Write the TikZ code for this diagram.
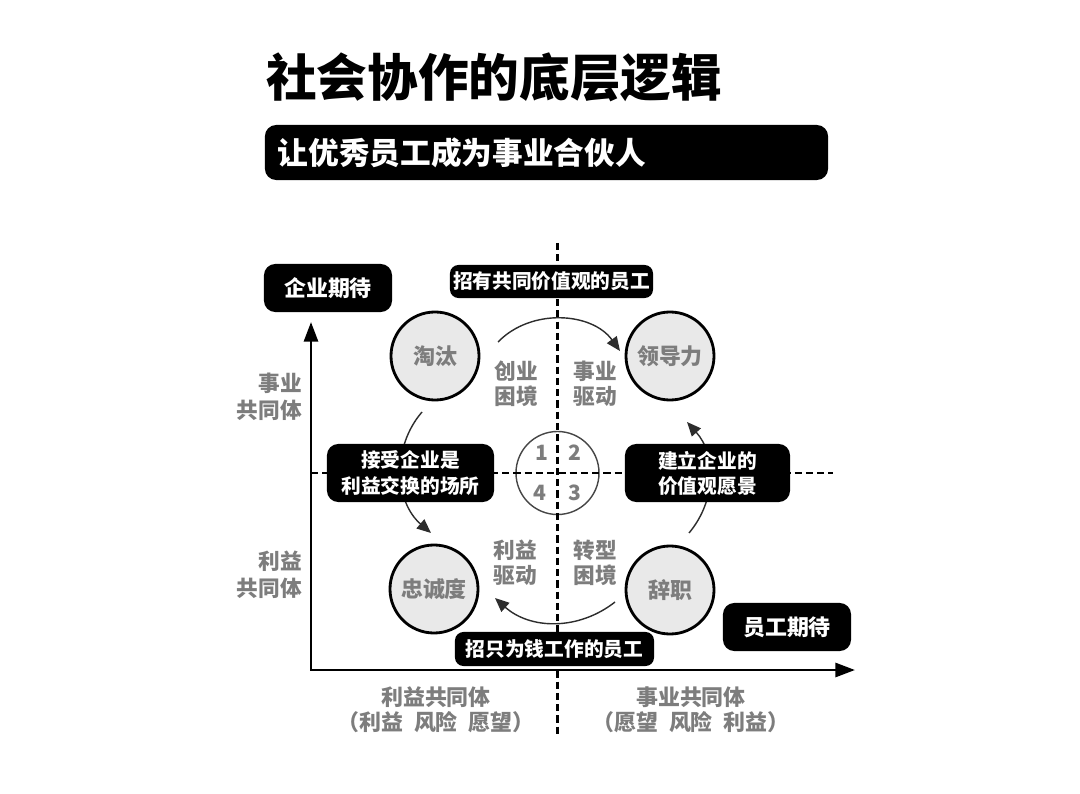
\documentclass[tikz,border=0pt]{standalone}
\usepackage{fontspec}
\usepackage{xcolor}
\usepackage{tikz}
\usetikzlibrary{positioning,arrows.meta,calc}
\newfontfamily\hei{Noto Sans CJK SC}
\newcommand{\fsz}[2]{\fontsize{#1}{#2}\selectfont}
\newcommand{\gap}{\hspace{0.5em}}
\definecolor{inkgray}{RGB}{125,125,125}
\definecolor{discgray}{RGB}{233,233,233}
\definecolor{ringgray}{RGB}{70,70,70}
\definecolor{arcgray}{RGB}{45,45,45}
\tikzset{
  tag/.style={fill=black, text=white, rounded corners=6pt, inner sep=0pt, align=center,
              font=\hei\bfseries\fsz{14}{17.8}},
  bigtag/.style={tag, rounded corners=8pt, font=\hei\bfseries\fsz{15.6}{19}},
  disc/.style={circle, draw=black, line width=2pt, fill=discgray, minimum size=2.2cm,
               inner sep=0pt, text=inkgray, font=\hei\bfseries\fsz{15.6}{18}},
  soft/.style={text=inkgray, inner sep=0pt, align=center, font=\hei\bfseries\fsz{15.4}{17.8}},
  num/.style={text=inkgray, inner sep=0pt, font=\hei\bfseries\fsz{15}{15}},
  axis/.style={line width=2pt, {Triangle[length=14pt,width=10pt]}-{Triangle[length=14pt,width=10pt]}},
  guide/.style={line width=1.8pt, dash pattern=on 5pt off 3pt},
  cyc/.style={line width=1pt, arcgray, -{Triangle[length=10pt,width=8.5pt]}}
}

\begin{document}
\begin{tikzpicture}[x=0.025cm, y=0.025cm]
\path[fill=white, use as bounding box] (0,0) rectangle (1080,-794);
\node[anchor=west, inner sep=0pt, font=\hei\bfseries\fsz{36}{40}] (title) at (266,-77) {社会协作的底层逻辑};
\node[tag, rounded corners=8pt, minimum height=1.375cm, text width=13.425cm, inner xsep=0.325cm,
      align=left, font=\hei\bfseries\fsz{21.8}{26}] (sub) at (546.5,-152.5) {让优秀员工成为事业合伙人};

\coordinate (origin) at (311,-670);
\coordinate (ytip) at (311,-322);
\coordinate (xtip) at (855,-670);
\coordinate (vtop) at (557.5,-243);
\coordinate (vbot) at (557.5,-735);
\coordinate (hend) at (833,-473);
\node[circle, draw=ringgray, line width=1pt, minimum size=2.075cm, inner sep=0pt] (hub) at (557.5,-473) {};
\draw[guide] (vtop) -- (vbot);
\draw[guide] (origin |- hub) -- (hend);
\draw[axis] (ytip) -- (origin) -- (xtip);

\node[num] (q1) at ($(hub)+(-16,20)$) {1};
\node[num] (q2) at ($(hub)+(17.5,20)$) {2};
\node[num] (q3) at ($(hub)+(17.5,-20)$) {3};
\node[num] (q4) at ($(hub)+(-17.5,-20)$) {4};

\coordinate (t1) at (498,-342);
\coordinate (t2) at (620,-351);
\coordinate (r1) at (689,-533);
\coordinate (r2) at (687,-422);
\coordinate (l1) at (422,-412);
\coordinate (l2) at (431,-533);
\coordinate (b1) at (615,-602);
\coordinate (b2) at (495,-598);
\draw[cyc] (t1) to[bend left=50] (t2);
\draw[cyc] (r1) to[bend right=41] (r2);
\draw[cyc] (l1) to[bend right=45] (l2);
\draw[cyc] (b1) to[bend left=40] (b2);

\node[bigtag, minimum width=3.2cm, minimum height=1.2cm] (corp) at (328,-288) {企业期待};
\node[bigtag, minimum width=3.2cm, minimum height=1.2cm] (staff) at (787,-627) {员工期待};
\node[tag, minimum width=5.075cm, minimum height=0.825cm] (hiretop) at (551.5,-281.5) {招有共同价值观的员工};
\node[tag, minimum width=4.975cm, minimum height=0.85cm] (hirebot) at (554.5,-649) {招只为钱工作的员工};
\node[tag, rounded corners=8pt, minimum width=4.175cm, minimum height=1.45cm] (accept) at (410.5,-473) {接受企业是\\利益交换的场所};
\node[tag, rounded corners=8pt, minimum width=4.125cm, minimum height=1.45cm] (vision) at (707.5,-473) {建立企业的\\价值观愿景};

\node[disc] (taotai) at (435,-356) {淘汰};
\node[disc] (lead) at (670,-356) {领导力};
\node[disc] (loyal) at (434,-589) {忠诚度};
\node[disc] (quit) at (670,-590) {辞职};

\node[soft] (q1lbl) at (516.5,-383.5) {创业\\困境};
\node[soft] (q2lbl) at (595,-383.5) {事业\\驱动};
\node[soft] (q4lbl) at (515,-563) {利益\\驱动};
\node[soft] (q3lbl) at (595,-563) {转型\\困境};

\node[soft, align=right, anchor=east, font=\hei\bfseries\fsz{15.4}{19}] (ytop) at (302,-397) {事业\\共同体};
\node[soft, align=right, anchor=east, font=\hei\bfseries\fsz{15.4}{19}] (ybot) at (302,-575) {利益\\共同体};
\node[soft, font=\hei\bfseries\fsz{15.6}{17.8}] (xleft) at (436,-709.5) {利益共同体\\（利益\gap 风险\gap 愿望）};
\node[soft, font=\hei\bfseries\fsz{15.6}{17.8}] (xright) at (691,-709.5) {事业共同体\\（愿望\gap 风险\gap 利益）};
\end{tikzpicture}
\end{document}
